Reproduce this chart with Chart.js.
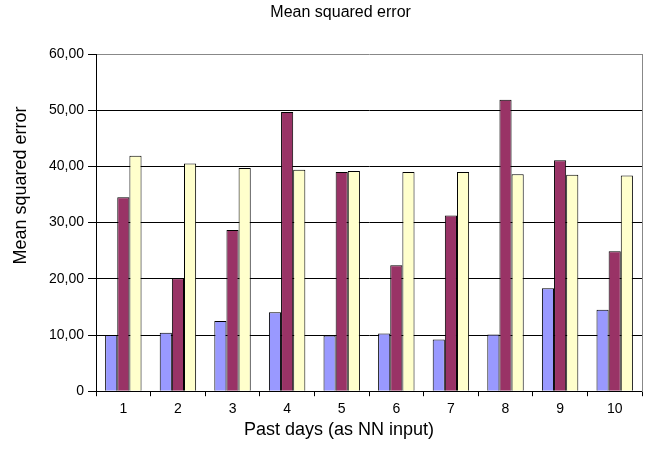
<!DOCTYPE html>
<html lang="en">
<head>
    <meta charset="UTF-8">
    <title>Mean squared error</title>
    <script src="https://cdn.jsdelivr.net/npm/chart.js"></script>
    <style>
        html, body { margin: 0; padding: 0; background: #fff; }
        #wrap { width: 648px; height: 449px; }
    </style>
</head>
<body>
    <div id="wrap"><canvas id="mseChart" width="648" height="449"></canvas></div>

    <script>
        // values
        const days = ['1', '2', '3', '4', '5', '6', '7', '8', '9', '10'];
        const seriesA = [10.0, 10.4, 12.5, 14.05, 9.9, 10.25, 9.2, 10.1, 18.3, 14.5];
        const seriesB = [34.5, 20.1, 28.7, 49.7, 39.0, 22.4, 31.25, 51.85, 41.1, 24.9];
        const seriesC = [41.9, 40.5, 39.7, 39.4, 39.2, 39.0, 39.0, 38.6, 38.5, 38.4];
        const yTicks = [0, 10, 20, 30, 40, 50, 60];

        const chartTitle = 'Mean squared error';
        const xTitle = 'Past days (as NN input)';
        const yTitle = 'Mean squared error';

        const font = "'Liberation Sans', Arial, sans-serif";

        function fmt(v) {
            if (v === 0) return '0';
            return v.toFixed(2).replace('.', ',');
        }

        // the old spreadsheet chart puts its titles a bit off the plot centre,
        // so they are drawn here instead of through the scale titles
        const titlePlugin = {
            id: 'sheetTitles',
            afterDraw(chart) {
                const c = chart.ctx;
                const a = chart.chartArea;
                c.save();
                c.fillStyle = '#000';
                c.textAlign = 'center';
                c.textBaseline = 'middle';

                c.font = '16px ' + font;
                c.fillText(chartTitle, a.left + (a.right - a.left) * 0.448, 13);

                c.font = '18px ' + font;
                c.fillText(xTitle, a.left + (a.right - a.left) * 0.445, 430);

                c.translate(21, a.top + (a.bottom - a.top) * 0.39);
                c.rotate(-Math.PI / 2);
                c.fillText(yTitle, 0, 0);
                c.restore();
            }
        };

        const ctx = document.getElementById('mseChart').getContext('2d');
        new Chart(ctx, {
            type: 'bar',
            data: {
                labels: days,
                datasets: [
                    { data: seriesA, backgroundColor: '#9999FF', borderColor: '#000', borderWidth: 1 },
                    { data: seriesB, backgroundColor: '#993366', borderColor: '#000', borderWidth: 1 },
                    { data: seriesC, backgroundColor: '#FFFFCC', borderColor: '#000', borderWidth: 1 }
                ]
            },
            options: {
                responsive: false,
                animation: false,
                devicePixelRatio: 1,
                layout: { padding: { left: 45, right: 6, top: 54, bottom: 26 } },
                datasets: { bar: { categoryPercentage: 0.667, barPercentage: 1.0 } },
                plugins: {
                    legend: { display: false },
                    tooltip: { enabled: false },
                    title: { display: false }
                },
                scales: {
                    x: {
                        grid: { display: true, offset: true, drawOnChartArea: false, tickLength: 5, color: '#000' },
                        border: { color: '#000', width: 1 },
                        ticks: { color: '#000', font: { family: font, size: 14 }, padding: 5 }
                    },
                    y: {
                        min: 0,
                        max: 60,
                        afterBuildTicks: axis => { axis.ticks = yTicks.map(v => ({ value: v })); },
                        grid: {
                            color: c => (c.tick && c.tick.value === 60) ? '#888' : '#000',
                            tickColor: '#000',
                            tickLength: 8,
                            lineWidth: 1
                        },
                        border: { color: '#000', width: 1 },
                        ticks: {
                            color: '#000',
                            font: { family: font, size: 14 },
                            padding: 4,
                            callback: v => fmt(v)
                        }
                    },
                    yRight: {
                        position: 'right',
                        display: true,
                        min: 0,
                        max: 60,
                        grid: { drawOnChartArea: false, drawTicks: false },
                        border: { color: '#888', width: 1 },
                        ticks: { display: false }
                    }
                }
            },
            plugins: [titlePlugin]
        });
    </script>
</body>
</html>
